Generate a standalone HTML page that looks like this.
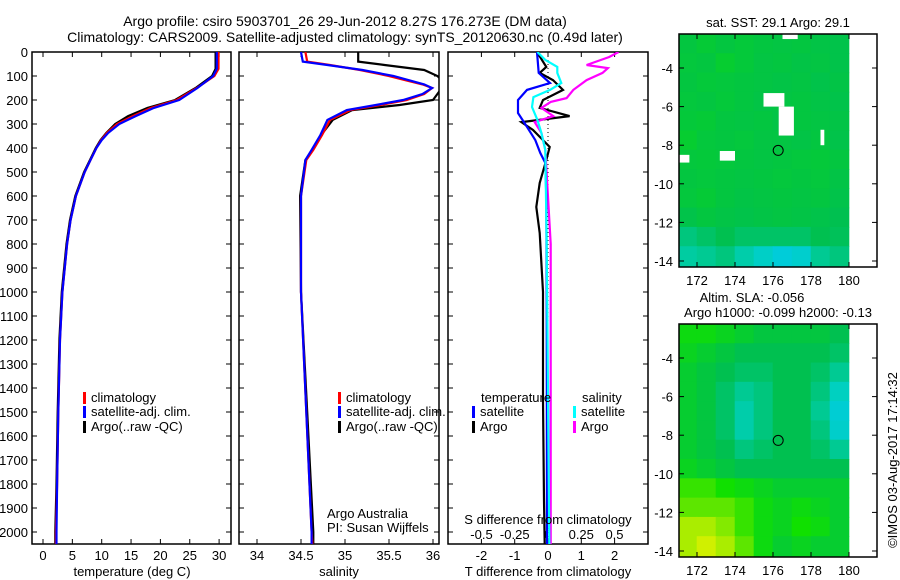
<!DOCTYPE html>
<html><head><meta charset="utf-8"><style>
body{margin:0;background:#fff}
svg{display:block;font-family:"Liberation Sans",sans-serif}
text{font-size:13px;fill:#000}
</style></head><body>
<svg id="fig" width="900" height="580" viewBox="0 0 900 580">
<defs>
<clipPath id="c1"><rect x="32" y="52" width="199" height="492"/></clipPath>
<clipPath id="c2"><rect x="239" y="52" width="200" height="492"/></clipPath>
<clipPath id="c3"><rect x="448" y="52" width="200" height="492"/></clipPath>
<clipPath id="cm1"><rect x="679" y="34" width="198" height="233"/></clipPath>
<clipPath id="cm2"><rect x="679" y="324" width="198" height="233"/></clipPath>
</defs>
<text x="345" y="26" text-anchor="middle" style="font-size:14px">Argo profile: csiro 5903701_26 29-Jun-2012 8.27S 176.273E (DM data)</text>
<text x="345" y="42" text-anchor="middle" style="font-size:14px">Climatology: CARS2009. Satellite-adjusted climatology: synTS_20120630.nc (0.49d later)</text>
<g id="g"></g>
</svg>
<script>
// ---- data ----
const depthTicks=[0,100,200,300,400,500,600,700,800,900,1000,1100,1200,1300,1400,1500,1600,1700,1800,1900,2000];
const tTicks=[0,5,10,15,20,25,30];
const sTicks=[34,34.5,35,35.5,36];
const dtTicks=[-2,-1,0,1,2];
const dsTicks=[-0.5,-0.25,0,0.25,0.5];
const dsTickLabels=["-0.5","-0.25","0","0.25","0.5"];
const tDepth=[0,70,100,150,200,233,267,300,337,367,400,450,500,600,700,800,1000,1200,1500,1800,2000,2050];
const tClim=[29.9,29.9,29.2,26.2,22.8,18.4,15.3,12.6,10.9,9.9,9.1,8.1,7.1,5.6,4.7,4.1,3.3,2.9,2.6,2.4,2.2,2.2];
const tSat=[29.6,29.6,29.0,26.3,23.2,18.9,15.8,13.0,11.1,10.0,9.1,8.1,7.1,5.6,4.7,4.1,3.3,2.9,2.6,2.4,2.3,2.3];
const tArgo=[29.4,29.4,28.8,26.0,22.5,17.8,14.5,12.3,10.8,9.8,9.0,8.0,7.0,5.5,4.6,4.0,3.2,2.8,2.5,2.3,2.1,2.1];
const sDepth=[0,40,54,75,100,117,135,150,175,200,221,242,283,346,408,450,600,1000,1500,2000,2050];
const sClim=[34.55,34.57,34.83,35.17,35.5,35.68,35.88,35.99,35.9,35.7,35.4,35.06,34.83,34.74,34.64,34.56,34.5,34.5,34.56,34.62,34.63];
const sSat=[34.5,34.52,34.8,35.2,35.55,35.72,35.9,35.99,35.88,35.66,35.35,35.02,34.8,34.72,34.62,34.55,34.5,34.5,34.56,34.62,34.62];
const sArgo=[35.15,35.15,35.45,35.9,36.05,36.1,36.1,36.1,36.05,36.0,35.62,35.08,34.86,34.73,34.63,34.55,34.49,34.5,34.57,34.64,34.64];
const dtSatDepth=[0,87,129,158,200,254,312,367,421,462,600,1000,2050];
const dtSat=[-0.33,-0.28,0.06,-0.63,-0.9,-0.9,-0.63,-0.38,-0.23,-0.08,-0.05,-0.04,-0.03];
const dtArgoDepth=[0,62,87,117,158,200,233,267,292,325,367,396,450,546,646,754,1000,1450,1870,2050];
const dtArgo=[-0.33,-0.05,-0.25,0.15,0.45,-0.15,-0.25,0.65,-0.8,-0.45,-0.15,0.05,-0.05,-0.25,-0.35,-0.25,-0.15,-0.15,-0.12,-0.1];
const dsSatDepth=[0,33,62,87,129,158,188,229,283,337,408,800,2050];
const dsSat=[-0.08,-0.02,0.07,0.07,0.1,0.015,-0.11,-0.12,-0.08,-0.05,-0.02,-0.01,0.01];
const dsArgoDepth=[0,21,54,67,87,117,158,192,208,233,267,292,337,408,800,2050];
const dsArgo=[0.53,0.46,0.29,0.45,0.41,0.29,0.19,0.14,0.02,-0.05,0.04,-0.1,-0.05,-0.02,0.02,0.02];
const mapLons=[171.5,172.5,173.5,174.5,175.5,176.5,177.5,178.5,179.5];
const mapLats=[-2.75,-3.75,-4.75,-5.75,-6.75,-7.75,-8.75,-9.75,-10.75,-11.75,-12.75,-13.75];
const sstGrid=[
[0.55,0.58,0.55,0.57,0.55,0.54,0.55,0.53,0.52],
[0.56,0.55,0.6,0.57,0.54,0.55,0.53,0.54,0.52],
[0.55,0.57,0.56,0.55,0.54,0.53,0.54,0.52,0.53],
[0.56,0.55,0.57,0.55,0.53,0.54,0.55,0.53,0.52],
[0.57,0.58,0.55,0.54,0.55,0.53,0.55,0.54,0.53],
[0.6,0.56,0.55,0.56,0.54,0.54,0.53,0.55,0.52],
[0.56,0.57,0.56,0.55,0.54,0.55,0.56,0.57,0.55],
[0.55,0.56,0.55,0.54,0.55,0.56,0.55,0.56,0.53],
[0.56,0.58,0.55,0.53,0.54,0.55,0.54,0.55,0.52],
[0.52,0.55,0.53,0.52,0.53,0.54,0.53,0.52,0.5],
[0.4,0.45,0.5,0.45,0.45,0.45,0.45,0.5,0.48],
[0.32,0.35,0.4,0.3,0.22,0.12,0.18,0.35,0.4]];
const slaGrid=[
[0.7,0.7,0.65,0.6,0.55,0.55,0.55,0.55,0.5],
[0.65,0.6,0.55,0.5,0.5,0.5,0.5,0.5,0.45],
[0.6,0.55,0.5,0.45,0.45,0.5,0.5,0.45,0.35],
[0.6,0.55,0.45,0.35,0.4,0.5,0.5,0.4,0.25],
[0.6,0.55,0.45,0.3,0.4,0.5,0.5,0.35,0.15],
[0.6,0.55,0.45,0.3,0.4,0.5,0.5,0.4,0.2],
[0.6,0.55,0.5,0.4,0.45,0.5,0.5,0.45,0.35],
[0.65,0.6,0.55,0.5,0.5,0.5,0.5,0.5,0.5],
[0.8,0.8,0.75,0.7,0.65,0.6,0.6,0.6,0.6],
[0.85,0.85,0.85,0.8,0.7,0.65,0.7,0.65,0.6],
[0.95,0.95,0.9,0.8,0.7,0.65,0.75,0.7,0.6],
[0.95,1.0,0.95,0.85,0.7,0.6,0.65,0.6,0.6]];
const sstGaps=[[176.5,177.3,-2.2,-2.5],[175.5,176.6,-5.3,-6.0],[176.3,177.1,-6.0,-7.5],[171.05,171.6,-8.5,-8.9],[173.2,174.0,-8.3,-8.8],[178.5,178.7,-7.2,-8.0]];
const mapLonTicks=[172,174,176,178,180];
const mapLatTicks=[-4,-6,-8,-10,-12,-14];
const argoLon=176.273, argoLat=-8.27;

// ---- scales ----
const Y=d=>52+d*0.24;
const XT=t=>43+t*5.87;
const XS=s=>257+(s-34)*88;
const XDT=v=>548+v*33.3;
const XDS=v=>548+v*133;
const ML=l=>697+(l-172)*19;
const MY1=a=>68+(-4-a)*19.3;
const MY2=a=>358+(-4-a)*19.3;

const NS='http://www.w3.org/2000/svg';
const G=document.getElementById('g');
function mk(tag,at,parent){const e=document.createElementNS(NS,tag);for(const k in at)e.setAttribute(k,at[k]);(parent||G).appendChild(e);return e;}
function txt(s,x,y,anchor,parent){const e=mk('text',{x:x,y:y,'text-anchor':anchor||'middle'},parent);e.textContent=s;return e;}
function line(xs,ds,fx,color,clip,name){
  const pts=xs.map((v,i)=>fx(v).toFixed(1)+','+Y(ds[i]).toFixed(1)).join(' ');
  const e=mk('polyline',{points:pts,fill:'none',stroke:color,'stroke-width':2.2,'clip-path':'url(#'+clip+')'});
  
  
}
function frame(x0,x1,name){
  const r=mk('rect',{x:x0,y:52,width:x1-x0,height:492,fill:'none',stroke:'#000','stroke-width':1.5});
  
  
  depthTicks.forEach(d=>{mk('line',{x1:x0,x2:x0+5,y1:Y(d),y2:Y(d),stroke:'#000'});mk('line',{x1:x1,x2:x1-5,y1:Y(d),y2:Y(d),stroke:'#000'});});
}
function xticks(vals,f,labels,ly){
  vals.forEach((v,i)=>{const x=f(v);mk('line',{x1:x,x2:x,y1:52,y2:57,stroke:'#000'});mk('line',{x1:x,x2:x,y1:544,y2:539,stroke:'#000'});
    if(labels){const t=txt(labels[i],x,ly);}});
}
function legend(x,y,color,label){
  mk('rect',{x:x,y:y-10,width:3,height:12,fill:color});
  const t=txt(label,x+8,y,'start');
  
  
}

// panel 1 temperature
frame(32,231,'temperature-panel');
depthTicks.forEach(d=>{const t=txt(String(d),28,Y(d)+5,'end');});
xticks(tTicks,XT,tTicks.map(String),560);
line(tArgo,tDepth,XT,'#000','c1','temperature-argo-line');
line(tClim,tDepth,XT,'#f00','c1','temperature-climatology-line');
line(tSat,tDepth,XT,'#00f','c1','temperature-satellite-line');
legend(83,402,'#f00','climatology');legend(83,416,'#00f','satellite-adj. clim.');legend(83,431,'#000','Argo(..raw -QC)');
let t=txt('temperature (deg C)',132,576);

// panel 2 salinity
frame(239,439,'salinity-panel');
xticks(sTicks,XS,sTicks.map(String),560);
line(sArgo,sDepth,XS,'#000','c2','salinity-argo-line');
line(sClim,sDepth,XS,'#f00','c2','salinity-climatology-line');
line(sSat,sDepth,XS,'#00f','c2','salinity-satellite-line');
legend(338,402,'#f00','climatology');legend(338,416,'#00f','satellite-adj. clim.');legend(338,431,'#000','Argo(..raw -QC)');
t=txt('salinity',339,576);
t=txt('Argo Australia',327,518,'start');
t=txt('PI: Susan Wijffels',327,532,'start');

// panel 3 differences
frame(448,648,'difference-panel');
xticks(dtTicks,XDT,dtTicks.map(String),560);
dsTickLabels.forEach((s,i)=>{const e=txt(s,XDS(dsTicks[i]),539);});
mk('line',{x1:548,x2:548,y1:52,y2:544,stroke:'#000','stroke-dasharray':'1,3'});
line(dtArgo,dtArgoDepth,XDT,'#000','c3','t-diff-argo-line');
line(dsArgo,dsArgoDepth,XDS,'#f0f','c3','s-diff-argo-line');
line(dtSat,dtSatDepth,XDT,'#00f','c3','t-diff-satellite-line');
line(dsSat,dsSatDepth,XDS,'#0ff','c3','s-diff-satellite-line');
t=txt('temperature',481,402,'start');
t=txt('salinity',582,402,'start');
legend(472,416,'#00f','satellite');legend(472,431,'#000','Argo');legend(573,416,'#0ff','satellite');legend(573,431,'#f0f','Argo');
t=txt('S difference from climatology',548,524);
t=txt('T difference from climatology',548,576);

// maps
const stops=[[0,[0,200,240]],[0.25,[0,208,192]],[0.5,[0,192,80]],[0.75,[16,224,0]],[1,[208,240,0]]];
function col(v){for(let i=1;i<stops.length;i++){if(v<=stops[i][0]){const a=stops[i-1],b=stops[i],f=(v-a[0])/(b[0]-a[0]);
  const c=a[1].map((x,k)=>Math.round(x+(b[1][k]-x)*f));return 'rgb('+c.join(',')+')';}}return 'rgb(208,240,0)';}
function drawMap(grid,MY,clip,y0,name){
  const g=mk('g',{'clip-path':'url(#'+clip+')'});
  
  
  mk('rect',{x:679,y:y0,width:198,height:233,fill:'#fff'},g);
  grid.forEach((row,r)=>row.forEach((v,c)=>{
    const lon=mapLons[c],lat=mapLats[r];
    const x0=ML(lon-0.5),x1=Math.min(ML(lon+0.5),852);
    const ya=r===0?y0:MY(lat+0.5), yb=r===grid.length-1?y0+233:MY(lat-0.5);
    const cell=mk('rect',{x:x0-0.3,y:ya-0.3,width:x1-x0+0.6,height:yb-ya+0.6,fill:col(v)},g);
    
    
  }));
  return g;
}
function mapAxes(MY,y0,labY){
  mk('rect',{x:679,y:y0,width:198,height:233,fill:'none',stroke:'#000','stroke-width':1.5});
  mapLonTicks.forEach(l=>{const x=ML(l);mk('line',{x1:x,x2:x,y1:y0,y2:y0+5,stroke:'#000'});mk('line',{x1:x,x2:x,y1:y0+233,y2:y0+228,stroke:'#000'});
    const e=txt(String(l),x,labY);});
  mapLatTicks.forEach(a=>{const y=MY(a);mk('line',{x1:679,x2:684,y1:y,y2:y,stroke:'#000'});mk('line',{x1:877,x2:872,y1:y,y2:y,stroke:'#000'});
    const e=txt(String(a),673,y+5,'end');});
  const c=mk('circle',{cx:ML(argoLon),cy:MY(argoLat),r:5,fill:'none',stroke:'#000'});
  
  
}
const g1=drawMap(sstGrid,MY1,'cm1',34,'sst-map');
sstGaps.forEach(p=>{const r=mk('rect',{x:ML(p[0]),y:MY1(p[2]),width:ML(p[1])-ML(p[0]),height:MY1(p[3])-MY1(p[2]),fill:'#fff'},g1);
  });
mapAxes(MY1,34,285);
drawMap(slaGrid,MY2,'cm2',324,'sla-map');
mapAxes(MY2,324,575);
t=txt('sat. SST: 29.1 Argo: 29.1',778,27);
t=txt('Altim. SLA: -0.056',752,302);
t=txt('Argo h1000: -0.099 h2000: -0.13',778,317);
t=txt('©IMOS 03-Aug-2017 17:14:32',0,0);t.setAttribute('transform','translate(897,460) rotate(-90)');

</script>
</body></html>
